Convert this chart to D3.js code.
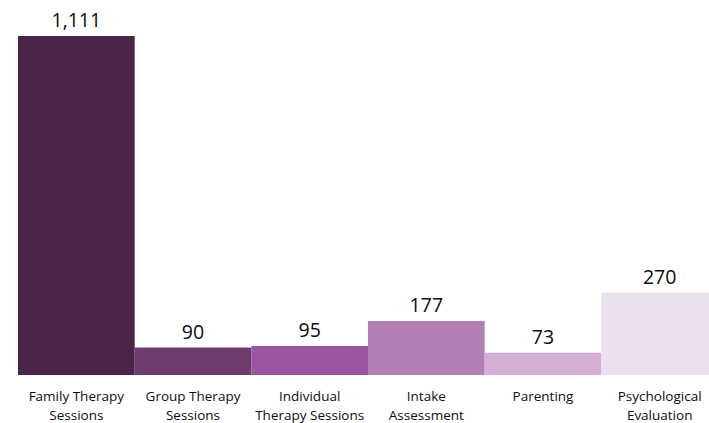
<!DOCTYPE html>
<html>
<head>
<meta charset="utf-8">
<script src="https://cdn.jsdelivr.net/npm/d3@7"></script>
<style>
  body { margin: 0; background: #fff; }
  svg { display: block; }
  text { font-family: "Open Sans", "Noto Sans", sans-serif; fill: #0d0d0d; }
</style>
</head>
<body>
<svg></svg>
<script>
(function () {
  var categories = [
    ["Family Therapy", "Sessions"],
    ["Group Therapy", "Sessions"],
    ["Individual", "Therapy Sessions"],
    ["Intake", "Assessment"],
    ["Parenting"],
    ["Psychological", "Evaluation"]
  ];
  var values = [1111, 90, 95, 177, 73, 270];
  var colors = ["#4a2548", "#6d3b6c", "#9a55a0", "#b17fb6", "#d4afd5", "#ecdfee"];

  var width = 709, height = 423;
  var baseline = 375;

  var svg = d3.select('svg').attr('width', width).attr('height', height);

  var x = d3.scaleBand()
    .domain(d3.range(values.length))
    .range([18, 718])
    .padding(0);

  var y = d3.scaleLinear()
    .domain([0, 1111])
    .range([baseline, 36]);

  var fmt = d3.format(",");

  svg.append('g')
    .selectAll('rect')
    .data(values)
    .enter()
    .append('rect')
    .attr('x', (d, i) => x(i))
    .attr('y', d => y(d))
    .attr('width', x.bandwidth())
    .attr('height', d => baseline - y(d))
    .attr('fill', (d, i) => colors[i]);

  // value labels
  svg.append('g')
    .selectAll('text')
    .data(values)
    .enter()
    .append('text')
    .attr('x', (d, i) => x(i) + x.bandwidth() / 2)
    .attr('y', d => y(d) - 9)
    .attr('text-anchor', 'middle')
    .attr('font-size', 19.5)
    .text(d => fmt(d));

  // category labels
  var cats = svg.append('g')
    .selectAll('text')
    .data(categories)
    .enter()
    .append('text')
    .attr('text-anchor', 'middle')
    .attr('font-size', 13.5);

  cats.selectAll('tspan')
    .data((d, i) => d.map(s => ({ s: s, i: i })))
    .enter()
    .append('tspan')
    .attr('x', d => x(d.i) + x.bandwidth() / 2)
    .attr('y', (d, j) => 401 + j * 19)
    .text(d => d.s);
})();
</script>
</body>
</html>
